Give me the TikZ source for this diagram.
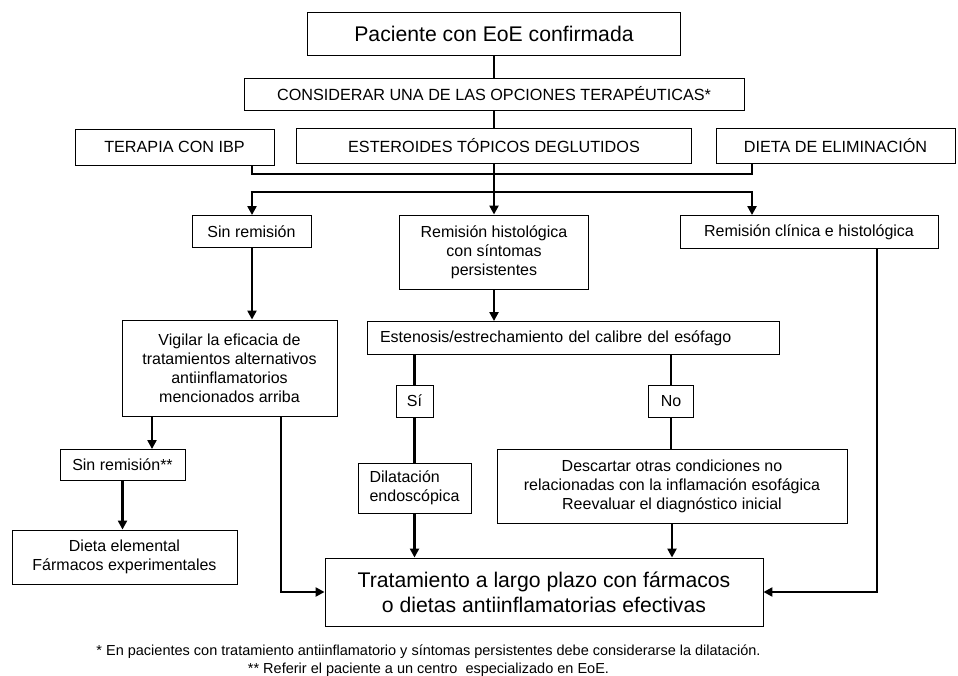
\documentclass[tikz,border=0pt]{standalone}
\usepackage{fontspec}
\setmainfont{Liberation Sans}
\usetikzlibrary{positioning,arrows.meta,calc}

\begin{document}
\begin{tikzpicture}[
	x=1pt, y=-1pt,
	box/.style={
		draw,
		line width=0.9pt,
		align=center,
		inner sep=2pt,
		font=\fontsize{16}{19}\selectfont,
	},
	bigbox/.style={box, font=\fontsize{21.2}{25}\selectfont},
	capsbox/.style={box, font=\fontsize{16.2}{19}\selectfont},
	link/.style={line width=2.6pt},
	arr/.style={link, -{Triangle[length=9pt,width=9pt]}},
	foot/.style={font=\fontsize{14.5}{17}\selectfont, inner sep=0pt},
]
\useasboundingbox (0,0) rectangle (958,676);

% --- Kopf: Patient und Therapieoptionen ---
\node[bigbox, minimum width=373pt, minimum height=43pt] (patient) at (494,33.5) {Paciente con EoE confirmada};
\node[capsbox, minimum width=500pt, minimum height=32pt] (opciones) at (494,94) {CONSIDERAR UNA DE LAS OPCIONES TERAPÉUTICAS*};

\node[capsbox, minimum width=199pt, minimum height=36pt] (ibp) at (174.5,147) {TERAPIA CON IBP};
\node[capsbox, minimum width=395pt, minimum height=35pt] (esteroides) at (494,145.5) {ESTEROIDES TÓPICOS DEGLUTIDOS};
\node[capsbox, minimum width=239pt, minimum height=35pt] (dieta) at (835.5,145.5) {DIETA DE ELIMINACIÓN};

% --- Ergebnisse ---
\node[box, minimum width=119pt, minimum height=32pt] (sinrem) at (251.5,231.5) {Sin remisión};
\node[box, minimum width=189pt, minimum height=74pt] (remhist) at (494,252) {Remisión histológica\\con síntomas\\persistentes};
\node[box, minimum width=258pt, minimum height=33pt] (remclin) at (809,232) {Remisión clínica e histológica};

\node[box, minimum width=215pt, minimum height=96pt] (vigilar) at (229.5,368) {Vigilar la eficacia de\\tratamientos alternativos\\antiinflamatorios\\mencionados arriba};
\node[box, align=left, text width=386pt, inner xsep=13pt, minimum height=33pt] (estenosis) at (573,338) {Estenosis/estrechamiento del calibre del esófago};

\node[box, minimum width=37pt, minimum height=32pt] (si) at (414.5,401) {Sí};
\node[box, minimum width=45pt, minimum height=32pt] (no) at (671,401) {No};

\node[box, align=left, minimum width=113pt, minimum height=50pt] (dilatacion) at (414.5,488) {Dilatación\\endoscópica};
\node[box, minimum width=350pt, minimum height=74pt] (descartar) at (672,486) {Descartar otras condiciones no\\relacionadas con la inflamación esofágica\\Reevaluar el diagnóstico inicial};

\node[box, minimum width=125pt, minimum height=31pt] (sinrem2) at (122.5,465) {Sin remisión**};
\node[box, minimum width=225pt, minimum height=54pt] (elemental) at (124.5,557) {Dieta elemental\\Fármacos experimentales};

\node[bigbox, minimum width=438pt, minimum height=68pt] (tratamiento) at (544,592) {Tratamiento a largo plazo con fármacos\\o dietas antiinflamatorias efectivas};

% --- Fußnoten ---
\node[foot] (foot1) at (428.5,652) {* En pacientes con tratamiento antiinflamatorio y síntomas persistentes debe considerarse la dilatación.};
\node[foot] (foot2) at (428.5,669.5) {** Referir el paciente a un centro\ \ especializado en EoE.};

% --- Verteiler unter den Optionen ---
\coordinate (upL) at (252,174);
\coordinate (upR) at (752,174);
\coordinate (lowL) at (252,192);
\coordinate (lowM) at (494,192);
\coordinate (lowR) at (752,192);

\draw[link] (patient) -- (opciones);
\draw[link] (opciones) -- (esteroides);
\draw[link] (ibp.south -| upL) -- (upL) -- (upR) -- (dieta.south -| upR);
\draw[link] (esteroides.south) -- (lowM);
\draw[link] ([xshift=-1.3pt]lowL) -- ([xshift=1.3pt]lowR);
\draw[arr] (lowL) -- (sinrem.north -| lowL);
\draw[arr] (lowM) -- (remhist.north);
\draw[arr] (lowR) -- (remclin.north -| lowR);

% --- Linker Zweig ---
\coordinate (vigA) at (152,0);
\coordinate (vigB) at (281,0);
\draw[arr] (sinrem.south -| lowL) -- (vigilar.north -| lowL);
\draw[arr] (vigilar.south -| vigA) -- (sinrem2.north -| vigA);
\draw[arr] (sinrem2.south) -- (sinrem2.south |- elemental.north);
\draw[arr] (vigilar.south -| vigB) |- (tratamiento.west);

% --- Mittlerer Zweig ---
\draw[arr] (remhist.south) -- (remhist.south |- estenosis.north);
\draw[link] (si.north |- estenosis.south) -- (si.north);
\draw[link] (no.north |- estenosis.south) -- (no.north);
\draw[link] (si.south) -- (si.south |- dilatacion.north);
\draw[link] (no.south) -- (no.south |- descartar.north);
\draw[arr] (dilatacion.south) -- (dilatacion.south |- tratamiento.north);
\draw[arr] (descartar.south) -- (descartar.south |- tratamiento.north);

% --- Rechter Zweig ---
\coordinate (clinR) at (877,0);
\draw[arr] (remclin.south -| clinR) |- (tratamiento.east);

\end{tikzpicture}
\end{document}
